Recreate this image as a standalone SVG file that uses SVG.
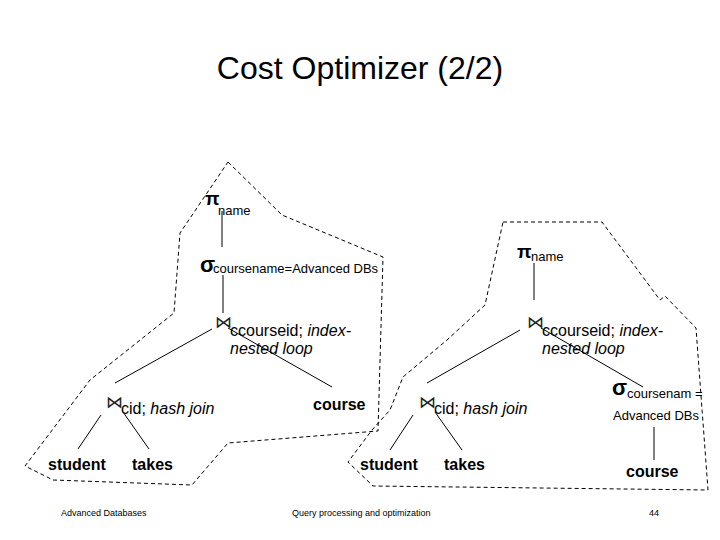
<svg xmlns="http://www.w3.org/2000/svg" width="720" height="540" viewBox="0 0 720 540">
<style>
text{font-family:"Liberation Sans",Arial,sans-serif;fill:#000}
.title{font-size:32px}
.sym{font-size:22px;font-weight:bold}
.pi{font-size:19px;font-weight:bold}
.sub{font-size:13px}
.ann{font-size:16px}
.it{font-style:italic}
.rel{font-size:16px;font-weight:bold}
.join{font-family:"DejaVu Sans",sans-serif;font-size:17px;fill:#222}
.foot{font-size:9px}
.edge{stroke:#000;stroke-width:1;fill:none}
.region{stroke:#000;stroke-width:1;fill:none;stroke-dasharray:4,3}
</style>
<rect width="720" height="540" fill="#fff"/>
<text class="title" x="360" y="79" text-anchor="middle">Cost Optimizer (2/2)</text>

<g id="regions">
<polyline class="region" points="228,162 282,215 383,257 378,431 228,443 192,485 53,480 25,466 90,380 174,313 180,233 228,162"/>
<polyline class="region" points="503,222 602,222 660,300 665,296 696,328 708,490 373,486 348,462 372,430 390,410 403,377 447,340 485,305 503,222"/>
</g>

<g id="connectors">
<line class="edge" x1="222" y1="211" x2="222" y2="247"/>
<line class="edge" x1="223" y1="275" x2="223" y2="313"/>
<line class="edge" x1="212" y1="329" x2="115" y2="383"/>
<line class="edge" x1="228" y1="328" x2="332" y2="387"/>
<line class="edge" x1="101" y1="415" x2="78" y2="449"/>
<line class="edge" x1="123" y1="412" x2="149" y2="449"/>
<line class="edge" x1="534" y1="263" x2="534" y2="300"/>
<line class="edge" x1="520" y1="330" x2="427" y2="383"/>
<line class="edge" x1="541" y1="328" x2="643" y2="387"/>
<line class="edge" x1="413" y1="415" x2="390" y2="450"/>
<line class="edge" x1="435" y1="412" x2="462" y2="450"/>
<line class="edge" x1="654" y1="427" x2="654" y2="460"/>
</g>

<g id="left-project">
<text class="pi" x="205" y="205">π</text>
<text class="sub" x="218" y="215">name</text>
</g>
<g id="left-select">
<text class="sym" x="200" y="272">σ</text>
<text class="sub" x="213" y="273">coursename=Advanced DBs</text>
</g>
<g id="left-join-top">
<text class="join" x="215" y="328">⋈</text>
<text class="ann" x="230" y="336">ccourseid; <tspan class="it">index-</tspan></text>
<text class="ann it" x="230" y="354">nested loop</text>
</g>
<g id="left-course"><text class="rel" x="313" y="410">course</text></g>
<g id="left-join-bottom">
<text class="join" x="106" y="408">⋈</text>
<text class="ann" x="121" y="414">cid; <tspan class="it">hash join</tspan></text>
</g>
<g id="left-student"><text class="rel" x="48" y="470">student</text></g>
<g id="left-takes"><text class="rel" x="132" y="470">takes</text></g>

<g id="right-project">
<text class="pi" x="517" y="258">π</text>
<text class="sub" x="531" y="261">name</text>
</g>
<g id="right-join-top">
<text class="join" x="527" y="328">⋈</text>
<text class="ann" x="542" y="336">ccourseid; <tspan class="it">index-</tspan></text>
<text class="ann it" x="542" y="354">nested loop</text>
</g>
<g id="right-join-bottom">
<text class="join" x="419" y="408">⋈</text>
<text class="ann" x="434" y="414">cid; <tspan class="it">hash join</tspan></text>
</g>
<g id="right-student"><text class="rel" x="360" y="470">student</text></g>
<g id="right-takes"><text class="rel" x="444" y="470">takes</text></g>
<g id="right-select">
<text class="sym" x="612" y="395">σ</text>
<text class="sub" x="627" y="398">coursenam =</text>
<text class="sub" x="613" y="420">Advanced DBs</text>
</g>
<g id="right-course"><text class="rel" x="626" y="477">course</text></g>

<g id="footer">
<text class="foot" x="61" y="516">Advanced Databases</text>
<text class="foot" x="292" y="516">Query processing and optimization</text>
<text class="foot" x="654" y="516" text-anchor="middle">44</text>
</g>
</svg>
